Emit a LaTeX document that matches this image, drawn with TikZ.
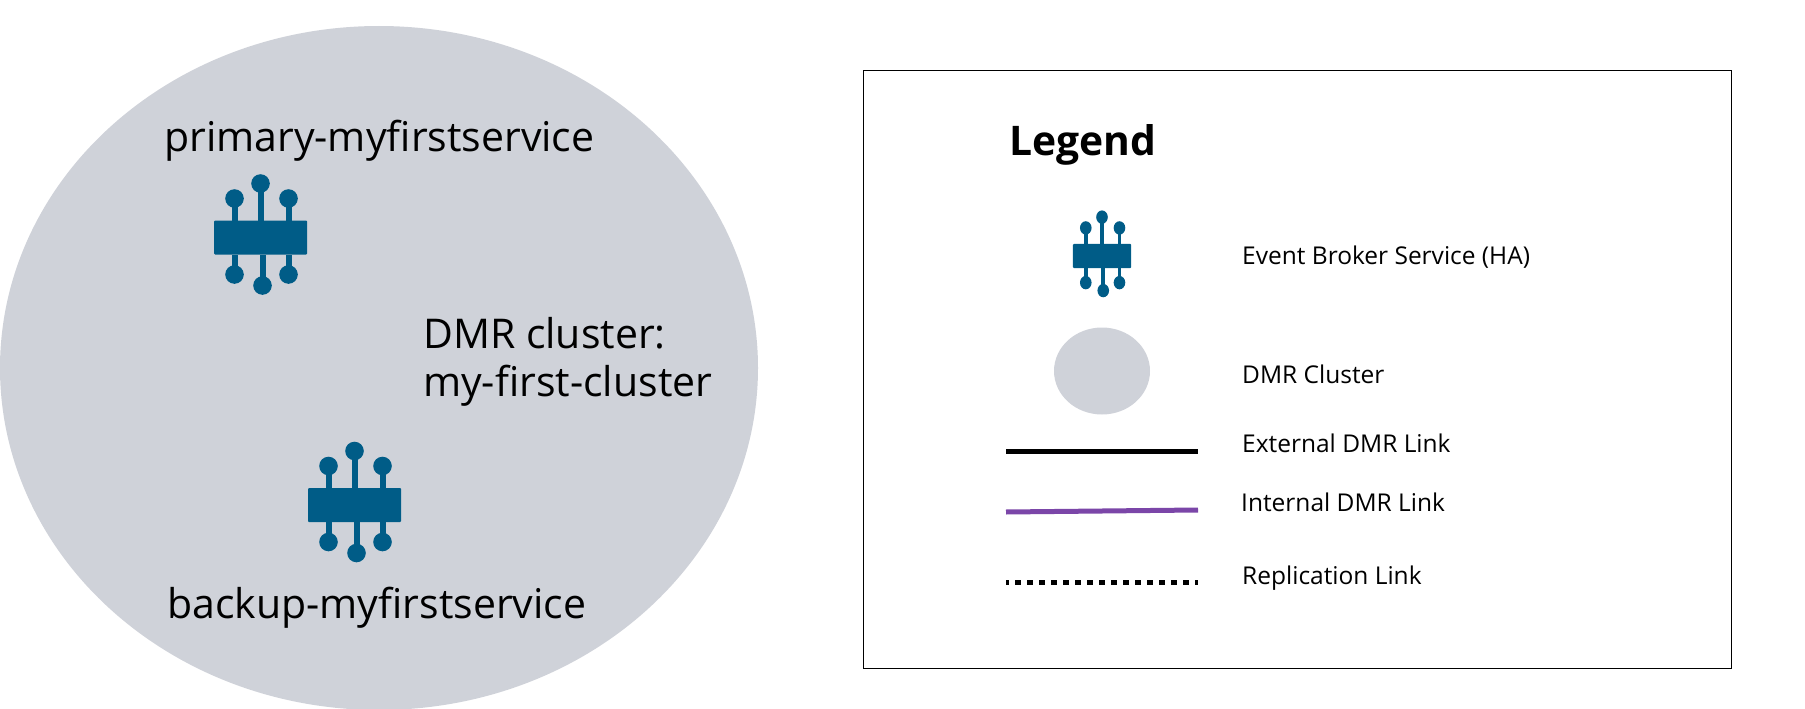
\documentclass[tikz,border=0pt]{standalone}
\usepackage{fontspec}
\setmainfont{Open Sans}
\usepackage{tikz}
\usetikzlibrary{positioning, shapes.geometric}
\definecolor{clusterGrey}{HTML}{CFD2D9}
\definecolor{brokerBlue}{HTML}{005C87}
\definecolor{linkPurple}{HTML}{7B46A8}

\tikzset{
  pics/broker/.style={code={
    \fill[brokerBlue,rounded corners=1pt] (-46.5,-17) rectangle (46.5,17);
    \foreach \xa/\ya/\xb/\yb in {-26/-17/-26/-39, 0/-17/0/-54, 28/-17/28/-39, -26/17/-26/37, 2/17/2/48, 28/17/28/37}{
      \fill[brokerBlue] (\xa-3,\ya) rectangle (\xb+3,\yb);
      \fill[brokerBlue] (\xb,\yb) circle (9.3);
    }
  }}
}

\begin{document}
\begin{tikzpicture}[x=1pt, y=-1pt,
  big label/.style={anchor=base west,inner sep=0pt,font=\fontsize{41}{48}\selectfont},
  key label/.style={anchor=base west,inner sep=0pt,font=\fontsize{24.5}{29}\selectfont},
  link/.style={line width=5pt}]
\useasboundingbox (0,0) rectangle (1805,709);

\node[ellipse,fill=clusterGrey,minimum width=758pt,minimum height=684pt,inner sep=0pt] (cluster) at (379,368) {};
\node[big label] (primary) at (164,151) {primary-myfirstservice};
\node[big label] (backup) at (167,618) {backup-myfirstservice};
\node[big label] (clustera) at (423,348) {DMR cluster:};
\node[big label] (clusterb) at (423,396) {my-first-cluster};
\pic at (260.5,237.5) {broker};
\pic at (354.5,505) {broker};

\draw[black,line width=1pt] (863.5,70.5) rectangle (1731.5,668);
\node[anchor=base west,inner sep=0pt,font=\fontsize{40.8}{48}\selectfont\bfseries] (legend) at (1009,155) {Legend};

\pic[xscale=0.624,yscale=0.72] at (1102,256) {broker};
\node[ellipse,fill=clusterGrey,minimum width=96pt,minimum height=87pt,inner sep=0pt] (clusterkey) at (1102,371) {};

\coordinate (extA) at (1006,451);
\coordinate (extB) at (1198,451);
\coordinate (intA) at (1006,512);
\coordinate (intB) at (1198,510);
\coordinate (repA) at (1006,582);
\coordinate (repB) at (1198,582);
\path[link]
(extA) edge[draw=black] (extB)
(intA) edge[draw=linkPurple] (intB)
(repA) edge[draw=black,dash pattern=on 6pt off 6pt,dash phase=3pt] (repB)
;

\node[key label] (brokertext) at (1242,264) {Event Broker Service (HA)};
\node[key label] (clustertext) at (1242,383) {DMR Cluster};
\node[key label] (exttext) at (1242,452) {External DMR Link};
\node[key label] (inttext) at (1241,511) {Internal DMR Link};
\node[key label] (reptext) at (1242,584) {Replication Link};

\end{tikzpicture}
\end{document}
